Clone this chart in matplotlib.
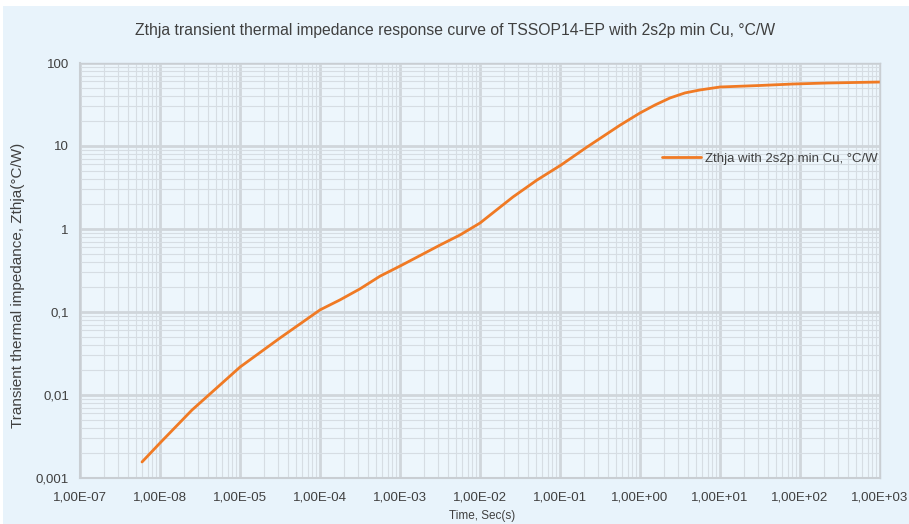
import matplotlib
matplotlib.use("Agg")
import matplotlib.pyplot as plt
from matplotlib.patches import Rectangle
from matplotlib.ticker import FixedLocator, NullFormatter, LogLocator

plt.rcParams['font.family'] = ['Liberation Sans', 'DejaVu Sans']

# ---- data ----
time_s = [5.96e-7, 1.0e-6, 2.51e-6, 5.62e-6, 1.0e-5, 3.16e-5, 1.0e-4, 1.78e-4,
          3.16e-4, 5.62e-4, 1.06e-3, 3.16e-3, 5.62e-3, 1.0e-2, 2.58e-2, 5.16e-2,
          1.03e-1, 2.17e-1, 5.62e-1, 1.0, 1.54, 2.37, 3.65, 5.6, 10.0,
          31.6, 81.0, 217.0, 1000.0]
zthja = [0.00156, 0.00264, 0.00659, 0.0132, 0.0217, 0.0486, 0.106, 0.14,
         0.19, 0.27, 0.368, 0.64, 0.847, 1.18, 2.43, 3.89,
         5.9, 9.7, 17.8, 25.0, 31.2, 37.9, 43.6, 47.3, 51.4,
         53.6, 55.8, 57.4, 59.0]

x_ticks = [1e-7, 1e-6, 1e-5, 1e-4, 1e-3, 1e-2, 1e-1, 1e0, 1e1, 1e2, 1e3]
x_tick_labels = ["1,00E-07", "1,00E-08", "1,00E-05", "1,00E-04", "1,00E-03",
                 "1,00E-02", "1,00E-01", "1,00E+00", "1,00E+01", "1,00E+02",
                 "1,00E+03"]
y_ticks = [0.001, 0.01, 0.1, 1, 10, 100]
y_tick_labels = ["0,001", "0,01", "0,1", "1", "10", "100"]

title = "Zthja transient thermal impedance response curve of TSSOP14-EP with 2s2p min Cu, \u00b0C/W"
series_name = "Zthja with 2s2p min Cu, \u00b0C/W"
x_label = "Time, Sec(s)"
y_label = "Transient thermal impedance, Zthja(\u00b0C/W)"

# ---- figure ----
W, H = 909, 524
fig = plt.figure(figsize=(W / 100, H / 100), dpi=100, facecolor="white")
bg = "#e8f3fb"
fig.patches.append(Rectangle((3 / W, 0), (W - 3) / W, (H - 6) / H,
                             transform=fig.transFigure, facecolor=bg,
                             edgecolor="none", zorder=-10))

ax = fig.add_axes([80 / W, (H - 478) / H, 800 / W, (478 - 63) / H])
ax.set_facecolor("#edf6fc")
ax.set_xscale("log")
ax.set_yscale("log")
ax.set_xlim(1e-7, 1e3)
ax.set_ylim(1e-3, 1e2)

ax.xaxis.set_major_locator(FixedLocator(x_ticks))
ax.set_xticklabels(x_tick_labels)
ax.yaxis.set_major_locator(FixedLocator(y_ticks))
ax.set_yticklabels(y_tick_labels)
ax.xaxis.set_minor_locator(LogLocator(base=10, subs=range(2, 10), numticks=50))
ax.yaxis.set_minor_locator(LogLocator(base=10, subs=range(2, 10), numticks=50))
ax.xaxis.set_minor_formatter(NullFormatter())
ax.yaxis.set_minor_formatter(NullFormatter())

ax.grid(True, which="minor", color="#d6dde3", linewidth=0.8)
ax.grid(True, which="major", color="#d0d6db", linewidth=2.0)
ax.set_axisbelow(True)

ax.tick_params(which="both", length=0)
ax.tick_params(axis="x", pad=10, labelsize=9.5, colors="#404040")
ax.tick_params(axis="y", pad=8, labelsize=9.5, colors="#404040")

for side, sp in ax.spines.items():
    sp.set_color("#c9ced3")
    sp.set_linewidth(1.5 if side in ("left", "bottom") else 1.0)

ax.plot(time_s, zthja, color="#f07a24", linewidth=2.0, label=series_name,
        solid_capstyle="round", solid_joinstyle="round")

leg = ax.legend(loc="center right", bbox_to_anchor=(0.9975, 0.769),
                frameon=False, fontsize=9.5, handlelength=3.0,
                handletextpad=0.3, borderaxespad=0, borderpad=0)
for t in leg.get_texts():
    t.set_color("#404040")

fig.text(455 / W, 1 - 30 / H, title, ha="center", va="center",
         fontsize=11.3, color="#404040")
fig.text(482 / W, 1 - 516 / H, x_label, ha="center", va="center",
         fontsize=8.5, color="#404040")
fig.text(18 / W, 1 - 285 / H, y_label, ha="center", va="center",
         rotation=90, fontsize=11, color="#404040")

fig.savefig("out.png", dpi=100, facecolor="white")
